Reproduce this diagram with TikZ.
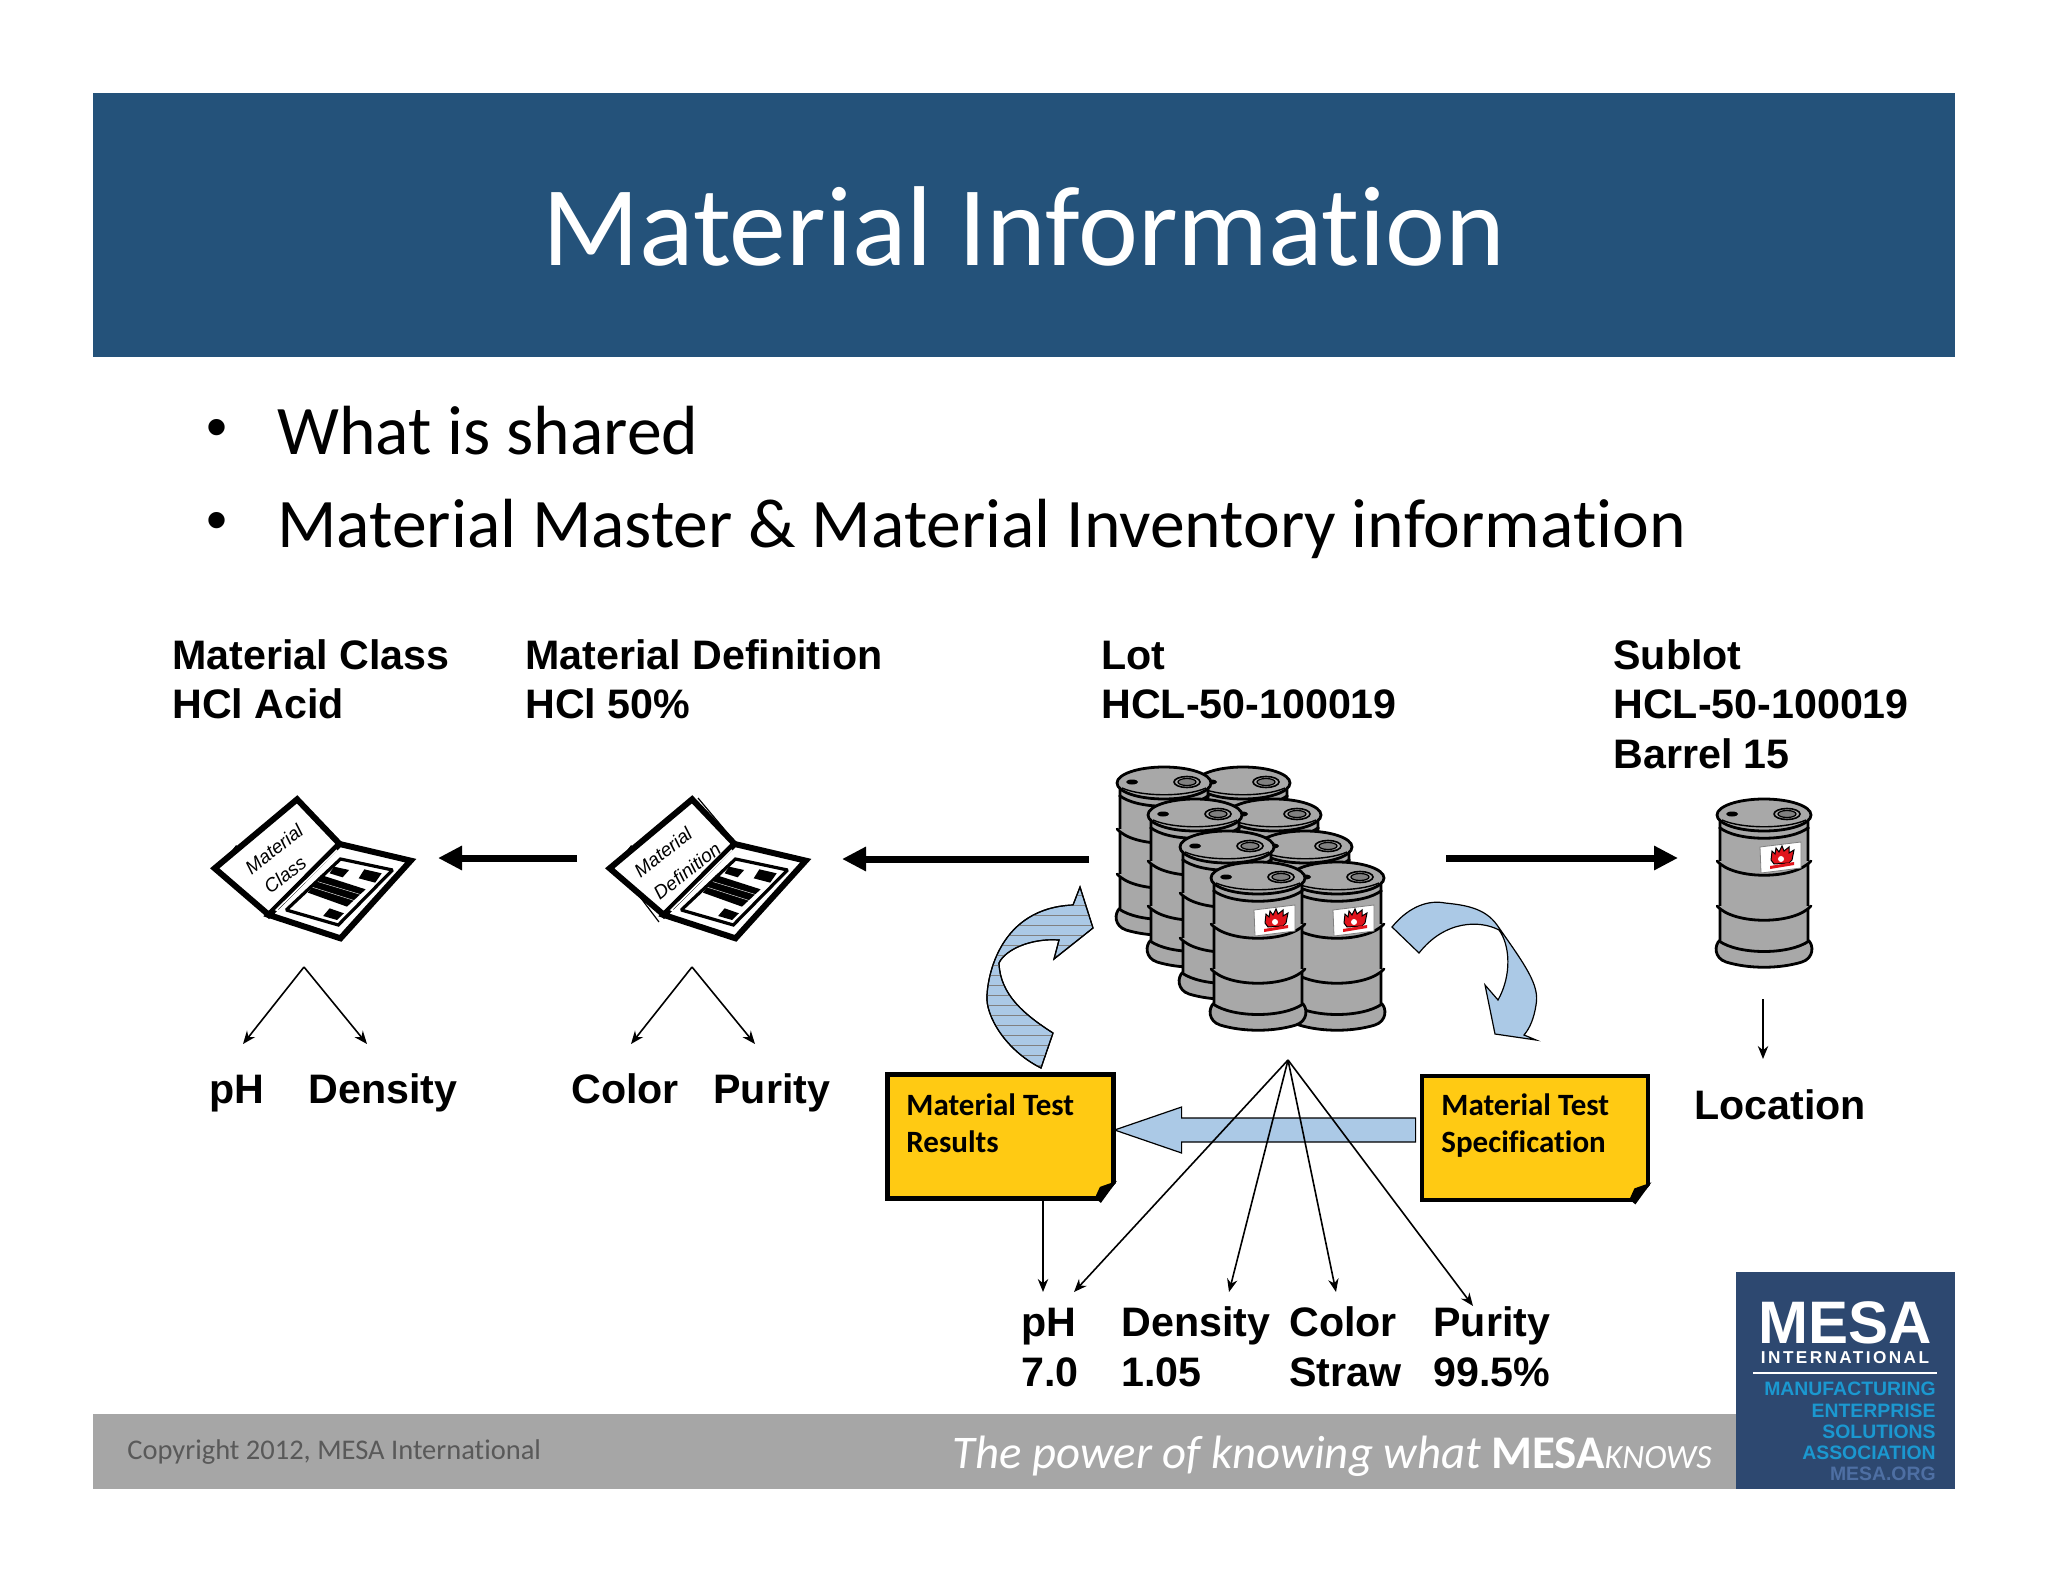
\documentclass[tikz,border=0pt]{standalone}
\usepackage{fontspec}
\setmainfont[Ligatures=NoCommon]{Carlito}
\newfontfamily\arialfont{Liberation Sans}
\usetikzlibrary{arrows.meta}

\definecolor{bannerblue}{HTML}{24527A}
\definecolor{bargray}{HTML}{A6A6A6}
\definecolor{logoblue}{HTML}{2D4870}
\definecolor{logocyan}{HTML}{1B98D0}
\definecolor{logodim}{HTML}{4E6FA3}
\definecolor{flowblue}{HTML}{ABC9E6}
\definecolor{noteyellow}{HTML}{FFCA13}
\definecolor{drumgray}{HTML}{A8A8A8}
\definecolor{hazardred}{HTML}{E0141C}

\newcommand{\resultsbend}{(1041,1068) .. controls (1005,1050) and (985,1015) .. (987,995) .. controls (988,975) and (1000,908) .. (1073,905) -- (1080,887) -- (1093,928) -- (1054,959) -- (1059,940) .. controls (1030,938) and (1005,950) .. (999,963) .. controls (1000,995) and (1025,1015) .. (1053,1033) -- cycle}

\newcommand{\barrel}[2]{
  \begin{scope}[shift={(#1,#2)}]
    \filldraw[drum] (-44,5) -- (-44,125) .. controls (-50,130) and (-50,143) .. (-38,147) .. controls (-15,154) and (15,154) .. (38,147) .. controls (50,143) and (50,130) .. (44,125) -- (44,5) -- cycle;
    \draw[drum] (-45,126) .. controls (-25,140) and (25,140) .. (45,126);
    \foreach \ring in {46,91}
      \draw[drum,line cap=round] (-47,\ring) .. controls (-30,\ring+19) and (30,\ring+19) .. (47,\ring);
    \draw[drum] (-45,12) .. controls (-28,27) and (28,27) .. (45,12);
    \filldraw[drum] (0,0) ellipse [x radius=47, y radius=16];
    \draw[drum,line width=.7pt] (-42,5) .. controls (-22,14) and (22,14) .. (42,5);
    \filldraw[drum,line width=.8pt] (23,-1) ellipse [x radius=13, y radius=5.5];
    \filldraw[drum,line width=.6pt,fill=gray] (23,-1) ellipse [x radius=9, y radius=3.5];
    \fill (-32,-1) ellipse [x radius=6, y radius=2.5];
  \end{scope}
}

\newcommand{\hazardlabel}[2]{
  \begin{scope}[shift={(#1,#2)}]
    \filldraw[fill=white,draw=gray,line width=.4pt] (-4,32) -- (37,27) -- (37,53) -- (-3,58) -- cycle;
    \filldraw[fill=hazardred,draw=black,line width=.5pt] (7,45) -- (8,36) -- (11,39) -- (12,33) -- (15,37) -- (18,31) -- (20,36) -- (25,32) -- (25,38) -- (30,35) -- (28,45) -- (25,48) -- (10,49) -- cycle;
    \fill[white] (17,44) circle [radius=3];
    \fill[hazardred] (6,51) -- (30,47) -- (30,50) -- (6,54) -- cycle;
  \end{scope}
}

\newcommand{\matbook}[2]{
  \begin{scope}[shift={(#1,#2)},xscale=.4337,yscale=.3333]
    \filldraw[bookline,line width=1.6pt] (95,290) -- (130,232) -- (150,250) -- cycle;
    \filldraw[bookline] (270,88) -- (368,222) -- (205,435) -- (80,295) -- cycle;
    \filldraw[bookline] (368,222) -- (532,272) -- (370,505) -- (205,435) -- cycle;
    \draw[white,line width=.8pt] (362,240) -- (222,420) -- (372,488);
    \filldraw[bookline,line width=1.6pt] (370,267) -- (490,300) -- (365,465) -- (245,420) -- cycle;
    \fill (325,315) -- (428,358) -- (385,410) -- (295,368) -- cycle;
    \draw[white,line width=.2pt] (318,335) -- (420,375) (306,352) -- (405,393);
    \fill (355,290) -- (390,300) -- (375,322) -- (345,310) -- cycle;
    \fill (425,298) -- (465,310) -- (450,338) -- (412,325) -- cycle;
    \fill (345,415) -- (378,430) -- (362,450) -- (330,438) -- cycle;
  \end{scope}
}

\newcommand{\notefold}[1]{
  \begin{scope}[shift={(#1.south east)}]
    \fill[white] (3,-21) -- (3,3) -- (-18,3) -- cycle;
    \fill (1,-20) -- (-15,2) -- (-21,-3) -- (-16,-14) -- cycle;
  \end{scope}
}

\begin{document}
\begin{tikzpicture}[x=0.5pt,y=-0.5pt,>={Stealth[length=6.5pt,width=5.2pt]}]
\tikzstyle{drum}=[draw=black,fill=drumgray,line width=1.4pt]
\tikzstyle{bookline}=[draw=black,fill=white,line width=3pt,line join=miter,miter limit=2]
\tikzstyle{booktext}=[font=\arialfont\itshape\fontsize{9.5}{12}\selectfont,rotate=38,inner sep=0pt]
\tikzstyle{head}=[font=\arialfont\bfseries\fontsize{20.6}{24.8}\selectfont,align=left,anchor=north west,inner sep=0pt]
\tikzstyle{bullettext}=[font=\fontsize{34.8}{40}\selectfont,anchor=base west,inner sep=0pt]
\tikzstyle{notebox}=[draw=black,fill=noteyellow,line width=2.4pt,minimum width=113pt,minimum height=62pt,inner sep=0pt]
\tikzstyle{notetext}=[font=\bfseries\fontsize{15.5}{18.4}\selectfont,align=left,anchor=north west,inner sep=0pt]
\tikzstyle{pointer}=[->,line width=.8pt]
\tikzstyle{fatarrow}=[-{Triangle[length=12pt,width=11.5pt]},line width=3.5pt]
\tikzstyle{bendarrow}=[fill=flowblue,draw=black,line width=.6pt,line join=miter]
\useasboundingbox (0,0) rectangle (2048,1582);

% banner
\node[fill=bannerblue,minimum width=931pt,minimum height=132pt,inner sep=0pt] (banner) at (1024,225) {};
\node[inner sep=0pt,text=white,font=\fontsize{56.8}{64}\selectfont] (title) at (1024,226) {Material Information};

% bullets
\node[bullettext,font=\arialfont\fontsize{30}{36}\selectfont] (bulletA) at (206,448) {•};
\node[bullettext] (shared) at (277,455) {What is shared};
\node[bullettext,font=\arialfont\fontsize{30}{36}\selectfont] (bulletB) at (206,541) {•};
\node[bullettext] (inventory) at (277,548) {Material Master \& Material Inventory information};

% headings
\node[head] (classHead) at (172,639) {Material Class\\HCl Acid};
\node[head] (defHead) at (525,639) {Material Definition\\HCl 50\%};
\node[head] (lotHead) at (1101,640.5) {Lot\\HCL-50-100019};
\node[head] (sublotHead) at (1613,639) {Sublot\\HCL-50-100019\\Barrel 15};

% books
\matbook{180}{770}
\node[booktext] (classA) at (274,849) {Material};
\node[booktext] (classB) at (285,875) {Class};
\matbook{575}{770}
\draw[line width=.6pt] (698,798) -- (735,842);
\draw[line width=.6pt] (637,893) -- (659,922);
\node[booktext] (defA) at (663,852) {Material};
\node[booktext] (defB) at (687,871) {Definition};

% barrels, back rows first
\foreach \xl/\xr/\yb in {1164/1243/783,1195/1274/815,1227/1305/847,1258/1337/878}{
  \barrel{\xr}{\yb}
  \barrel{\xl}{\yb}
}
\hazardlabel{1337}{878}
\hazardlabel{1258}{878}
\barrel{1764}{815}
\hazardlabel{1764}{815}

% curved arrows
\filldraw[bendarrow] \resultsbend;
\begin{scope}
\clip \resultsbend;
\foreach \sy in {895,905,...,1065}
  \draw[line width=.3pt,draw=gray] (980,\sy) -- (1100,\sy);
\end{scope}
\draw[bendarrow,fill=none] \resultsbend;
\filldraw[bendarrow] (1392,927) .. controls (1410,905) and (1430,900) .. (1445,903) .. controls (1465,905) and (1485,908) .. (1497,925) .. controls (1525,965) and (1540,985) .. (1536,1005) .. controls (1534,1018) and (1530,1028) .. (1524,1035) -- (1536,1040) -- (1495,1034) -- (1485,985) -- (1498,1000) .. controls (1512,975) and (1510,945) .. (1499,930) .. controls (1480,920) and (1445,920) .. (1419,953) -- cycle;

% notes
\node[notebox] (results) at (1000.5,1136.5) {};
\notefold{results}
\node[notetext] (resultsText) at (906,1093.5) {Material Test\\Results};
\node[notebox] (spec) at (1535,1138) {};
\notefold{spec}
\node[notetext] (specText) at (1441,1093.5) {Material Test\\Specification};
\filldraw[bendarrow] (spec.west) ++(-4,-20) -- ++(-234,0) -- ++(0,-11) -- ++(-67,23) -- ++(67,23) -- ++(0,-11) -- ++(234,0) -- cycle;

% properties
\node[head] (classPh) at (209,1075) {pH};
\node[head] (classDensity) at (308,1073.5) {Density};
\node[head] (defColor) at (571,1073.5) {Color};
\node[head] (defPurity) at (713,1073.5) {Purity};
\node[head] (location) at (1694,1089) {Location};
\node[head] (testPh) at (1021,1308) {pH\\7.0};
\node[head] (testDensity) at (1121,1306.5) {Density\\1.05};
\node[head] (testColor) at (1289,1306.5) {Color\\Straw};
\node[head] (testPurity) at (1433,1306.5) {Purity\\99.5\%};

% fat arrows
\coordinate (lotLeft) at (1089,859);
\coordinate (defEnd) at (842,859);
\coordinate (defStart) at (577,858);
\coordinate (classEnd) at (438,858);
\coordinate (lotRight) at (1446,858);
\coordinate (sublotEnd) at (1678,858);
\draw[fatarrow] (lotLeft) -- (defEnd);
\draw[fatarrow] (defStart) -- (classEnd);
\draw[fatarrow] (lotRight) -- (sublotEnd);

% thin arrows
\coordinate (classApex) at (304,967);
\coordinate (defApex) at (692,967);
\coordinate (lotApex) at (1288,1060);
\coordinate (sublotDrop) at (1763,999);
\coordinate (phTopA) at (243,1044);
\coordinate (densityTopA) at (367,1044);
\coordinate (colorTopA) at (631,1044);
\coordinate (purityTopA) at (755,1044);
\coordinate (locationTop) at (1763,1059);
\coordinate (phTopB) at (1043,1292);
\coordinate (phTopC) at (1074,1292);
\coordinate (densityTopB) at (1229,1292);
\coordinate (colorTopB) at (1336,1292);
\coordinate (purityTopB) at (1473,1306);
\path[pointer] (classApex) edge (phTopA)
                           edge (densityTopA)
                (defApex) edge (colorTopA)
                          edge (purityTopA)
                (lotApex) edge (phTopC)
                          edge (densityTopB)
                          edge (colorTopB)
                          edge (purityTopB)
                (sublotDrop) edge (locationTop);
\draw[pointer] (results.south -| phTopB) -- (phTopB);

% footer
\node[fill=bargray,minimum width=822pt,minimum height=37.5pt,inner sep=0pt] (footer) at (915,1451.5) {};
\node[anchor=west,inner sep=0pt,text=black!65,font=\fontsize{14.25}{17}\selectfont] (copyright) at (127,1452) {Copyright 2012, MESA International};
\node[anchor=east,inner sep=0pt,text=white,font=\fontsize{23.4}{28}\selectfont] (tagline) at (1712,1456) {\itshape The power of knowing what \upshape\bfseries MESA\mdseries\itshape\fontsize{17}{20}\selectfont KNOWS};

% logo
\node[fill=logoblue,minimum width=109.5pt,minimum height=108.5pt,inner sep=0pt] (logo) at (1845.5,1380) {};
\node[inner sep=0pt,text=white,font=\arialfont\bfseries\fontsize{30}{34}\selectfont] (mesa) at (1845,1323) {MESA};
\node[inner sep=0pt,text=white,font=\arialfont\bfseries\fontsize{8.6}{10}\selectfont] (international) at (1845,1358) {\addfontfeature{LetterSpace=14}INTERNATIONAL};
\coordinate (ruleLeft) at (1753,1373);
\coordinate (ruleRight) at (1937,1373);
\draw[white,line width=1.4pt] (ruleLeft) -- (ruleRight);
\node[anchor=north east,inner sep=0pt,align=right,text=logocyan,font=\arialfont\bfseries\fontsize{9.7}{10.6}\selectfont] (logoWords) at (1936,1382) {MANUFACTURING\\ENTERPRISE\\SOLUTIONS\\ASSOCIATION\\\textcolor{logodim}{MESA.ORG}};
\end{tikzpicture}
\end{document}
